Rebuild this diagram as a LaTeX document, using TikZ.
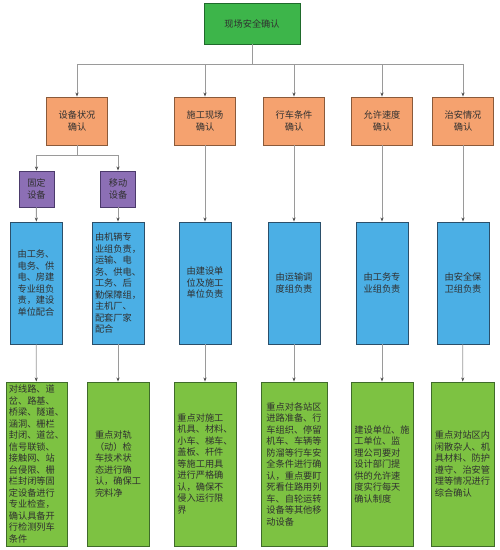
\documentclass[tikz,border=0pt]{standalone}
\usepackage{fontspec}
\setmainfont{Noto Sans CJK SC}
\usetikzlibrary{arrows.meta}
\definecolor{topgreen}{HTML}{3DB54A}
\definecolor{topgreenB}{HTML}{1F6A2B}
\definecolor{orangeF}{HTML}{F5A26F}
\definecolor{orangeB}{HTML}{8A5A3A}
\definecolor{purpleF}{HTML}{8C6FB5}
\definecolor{purpleB}{HTML}{4B3A6B}
\definecolor{blueF}{HTML}{4BAFE5}
\definecolor{blueB}{HTML}{2B4F6A}
\definecolor{greenF}{HTML}{7DC242}
\definecolor{greenB}{HTML}{3F6B2A}
\definecolor{lineC}{HTML}{9A9A9A}
\definecolor{txtC}{HTML}{303030}
\tikzset{
  box/.style={draw, line width=0.9pt, inner sep=2pt, text=txtC,
    font=\fontsize{9.2}{11.5}\selectfont},
  topbox/.style={box, fill=topgreen, draw=topgreenB, minimum width=96pt, minimum height=41pt, align=center},
  obox/.style={box, fill=orangeF, draw=orangeB, minimum width=61pt, minimum height=48pt, align=center},
  pbox/.style={box, fill=purpleF, draw=purpleB, minimum width=35pt, minimum height=36pt, align=center},
  bbox/.style={box, fill=blueF, draw=blueB, minimum width=52pt, minimum height=122pt, align=left},
  gbox/.style={box, fill=greenF, draw=greenB, minimum width=62pt, minimum height=164pt, align=left},
  conn/.style={draw=lineC, line width=0.8pt},
  arr/.style={conn, -{Stealth[length=4pt,width=3pt,color=black!70]}}
}
\begin{document}
\begin{tikzpicture}[x=1pt,y=-1pt]
\useasboundingbox[fill=white] (0,0) rectangle (500,550);
\node[topbox] (top) at (252,23.5) {现场安全确认};
\node[obox] (o1) at (77,121) {设备状况\\确认};
\node[obox] (o2) at (205,121) {施工现场\\确认};
\node[obox] (o3) at (294,121) {行车条件\\确认};
\node[obox] (o4) at (382,121) {允许速度\\确认};
\node[obox] (o5) at (463,121) {治安情况\\确认};
\node[pbox] (p1) at (36.5,189) {固定\\设备};
\node[pbox] (p2) at (118,189) {移动\\设备};
\node[bbox] (b1) at (36,283) {由工务、\\电务、供\\电、房建\\专业组负\\责，建设\\单位配合};
\node[bbox] (b2) at (118,283) {由机辆专\\业组负责，\\运输、电\\务、供电、\\工务、后\\勤保障组，\\主机厂、\\配套厂家\\配合};
\node[bbox] (b3) at (205,283) {由建设单\\位及施工\\单位负责};
\node[bbox] (b4) at (294,283) {由运输调\\度组负责};
\node[bbox] (b5) at (382,283) {由工务专\\业组负责};
\node[bbox] (b6) at (463,283) {由安全保\\卫组负责};
\node[gbox, minimum width=61pt] (g1) at (36.5,464) {对线路、道\\岔、路基、\\桥梁、隧道、\\涵洞、栅栏\\封闭、道岔、\\信号联锁、\\接触网、站\\台侵限、栅\\栏封闭等固\\定设备进行\\专业检查，\\确认具备开\\行检测列车\\条件};
\node[gbox] (g2) at (118,464) {重点对轨\\（动）检\\车技术状\\态进行确\\认，确保工\\完料净};
\node[gbox] (g3) at (205,464) {重点对施工\\机具、材料、\\小车、梯车、\\盖板、杆件\\等施工用具\\进行严格确\\认，确保不\\侵入运行限\\界};
\node[gbox, minimum width=66pt] (g4) at (294,464) {重点对各站区\\进路准备、行\\车组织、停留\\机车、车辆等\\防溜等行车安\\全条件进行确\\认，重点要盯\\死看住路用列\\车、自轮运转\\设备等其他移\\动设备};
\node[gbox] (g5) at (382,464) {建设单位、施\\工单位、监\\理公司要对\\设计部门提\\供的允许速\\度实行每天\\确认制度};
\node[gbox, minimum width=63pt] (g6) at (462.5,464) {重点对站区内\\闲散杂人、机\\具材料、防护\\遵守、治安管\\理等情况进行\\综合确认};
\coordinate (bus) at (0,64);
\coordinate (bus2) at (0,155);
\draw[conn] (top.south) -- (top.south |- bus);
\foreach \o in {o1,o2,o3,o4,o5}{
  \draw[arr] (top.south |- bus) -| (\o.north);
}
\draw[conn] (o1.south) -- (o1.south |- bus2);
\draw[arr] (o1.south |- bus2) -| (p1.north);
\draw[arr] (o1.south |- bus2) -| (p2.north);
\draw[arr] (p1) -- (b1);
\draw[arr] (p2) -- (b2);
\draw[arr] (o2) -- (b3);
\draw[arr] (o3) -- (b4);
\draw[arr] (o4) -- (b5);
\draw[arr] (o5) -- (b6);
\draw[arr] (b1) -- (g1);
\draw[arr] (b2) -- (g2);
\draw[arr] (b3) -- (g3);
\draw[arr] (b4) -- (g4);
\draw[arr] (b5) -- (g5);
\draw[arr] (b6) -- (g6);
\end{tikzpicture}
\end{document}
